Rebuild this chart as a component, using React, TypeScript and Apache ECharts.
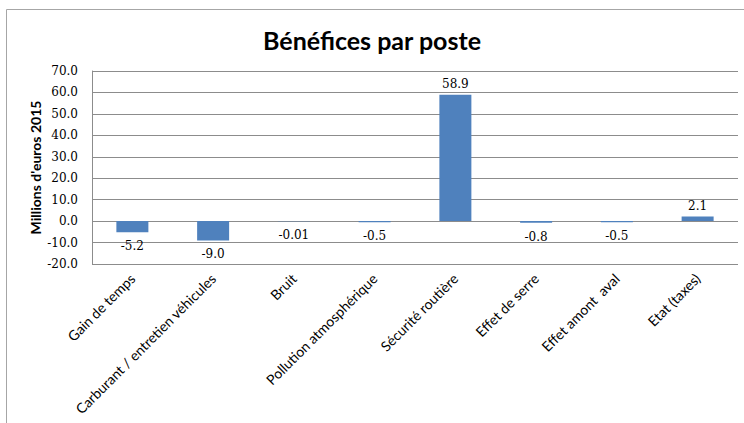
import React, { useEffect, useRef } from "react";
import * as echarts from "echarts";

const categories = [
  "Gain de temps",
  "Carburant / entretien véhicules",
  "Bruit",
  "Pollution atmosphérique",
  "Sécurité routière",
  "Effet de serre",
  "Effet amont  aval",
  "Etat (taxes)",
];
const values = [-5.2, -9.0, -0.01, -0.5, 58.9, -0.8, -0.5, 2.1];
const yMin = -20;
const yMax = 70;
const yStep = 10;
const titleText = "Bénéfices par poste";
const yAxisName = "Millions d'euros 2015";

const fmt = (v: number) => (Math.abs(v) < 0.1 ? v.toFixed(2) : v.toFixed(1));

export default function App() {
  const ref = useRef<HTMLDivElement>(null);
  useEffect(() => {
    document.body.style.margin = "0";
    const chart = echarts.init(ref.current!, undefined, { renderer: "svg" });
    chart.setOption({
      animation: false,
      backgroundColor: "#ffffff",
      title: {
        text: titleText,
        left: "center",
        top: 22,
        textStyle: { fontFamily: "Lato", fontWeight: "bold", fontSize: 25, color: "#000" },
      },
      graphic: [
        {
          type: "rect",
          shape: { x: 6.5, y: 9.5, width: 800, height: 500 },
          style: { fill: "none", stroke: "#a6a6a6", lineWidth: 1 },
          silent: true,
        },
      ],
      grid: { left: 92, right: 6, top: 71, bottom: 159, containLabel: false },
      xAxis: {
        type: "category",
        data: categories,
        axisLine: { show: false, onZero: false },
        axisTick: { show: false },
        axisLabel: {
          interval: 0,
          rotate: 45,
          margin: 12,
          fontFamily: "Lato",
          fontSize: 14,
          color: "#000",
        },
      },
      yAxis: {
        type: "value",
        min: yMin,
        max: yMax,
        interval: yStep,
        name: yAxisName,
        nameLocation: "middle",
        nameGap: 50,
        nameMoveOverlap: false,
        nameTextStyle: { fontFamily: "Lato", fontWeight: "bold", fontSize: 14, color: "#000" },
        axisLine: { show: true, lineStyle: { color: "#8c8c8c" } },
        axisTick: { show: false },
        splitLine: { lineStyle: { color: "#8c8c8c" } },
        axisLabel: {
          formatter: (v: number) => v.toFixed(1),
          margin: 14,
          fontFamily: "DejaVu Serif",
          fontSize: 12,
          color: "#000",
        },
      },
      series: [
        {
          type: "bar",
          barWidth: 32,
          itemStyle: { color: "#4F81BD" },
          data: values.map((v) => ({
            value: v,
            label: {
              show: true,
              position: v < 0 ? "bottom" : "top",
              distance: v < 0 ? 8 : 5,
              formatter: () => fmt(v),
              fontFamily: "DejaVu Serif",
              fontSize: 12,
              color: "#000",
            },
          })),
        },
      ],
    });
    return () => chart.dispose();
  }, []);
  return <div ref={ref} style={{ width: 744, height: 423 }} />;
}
